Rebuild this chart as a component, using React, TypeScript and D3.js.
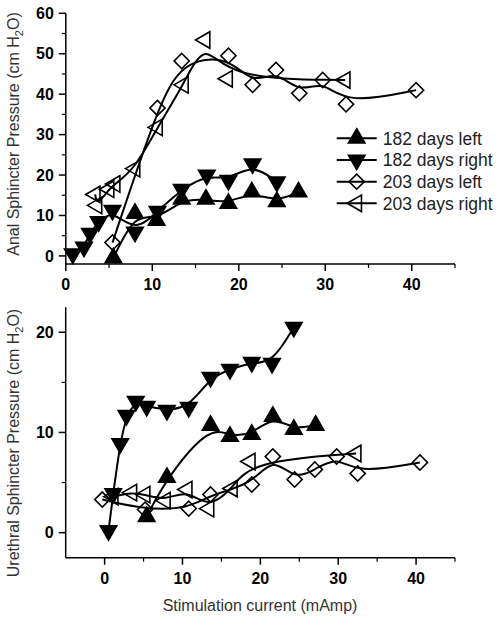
import React from 'react';
import * as d3 from 'd3';

// ---------- Data (x = stimulation current mAmp, y = pressure cm H2O) ----------
const analLeft182: [number, number][] = [
  [5.5, -0.5], [8.0, 10.5], [10.5, 8.8], [13.4, 14.0], [16.2, 14.0],
  [18.8, 13.0], [21.5, 15.8], [24.4, 13.4], [26.9, 15.8],
];
const analRight182: [number, number][] = [
  [0.8, 0.5], [2.1, 2.2], [2.8, 5.6], [3.8, 8.5], [5.4, 11.3], [8.0, 5.9],
  [10.6, 11.0], [13.4, 16.5], [16.3, 20.0], [18.8, 18.7], [21.6, 22.8], [24.4, 18.3],
];
const analLeft203: [number, number][] = [
  [5.4, 3.3], [10.6, 36.6], [13.4, 48.2], [18.8, 49.5], [21.6, 42.3],
  [24.3, 46.0], [27.0, 40.2], [29.7, 43.5], [32.4, 37.5], [40.5, 41.0],
];
const analRight203: [number, number][] = [
  [3.4, 15.2], [3.6, 12.5], [5.0, 16.5], [5.7, 17.8], [8.0, 21.6], [10.6, 31.8],
  [13.6, 42.3], [16.1, 53.4], [18.7, 43.8], [32.3, 43.5],
];

const urethLeft182: [number, number][] = [
  [5.4, 1.6], [8.0, 5.5], [13.6, 10.7], [16.1, 9.6], [18.9, 9.8],
  [21.6, 11.6], [24.3, 10.3], [27.1, 10.7],
];
const urethRight182: [number, number][] = [
  [0.5, 0.2], [1.1, 3.9], [2.0, 8.9], [2.8, 11.7], [4.0, 13.1], [5.4, 12.6],
  [8.0, 12.2], [10.8, 12.5], [13.6, 15.5], [16.1, 16.3], [18.9, 17.0],
  [21.5, 16.9], [24.3, 20.5],
];
const urethLeft203: [number, number][] = [
  [-0.3, 3.3], [5.2, 2.3], [10.8, 2.4], [13.6, 3.8], [18.9, 4.8], [21.6, 7.6],
  [24.4, 5.3], [27.0, 6.3], [29.8, 7.6], [32.5, 5.9], [40.5, 7.0],
];
const urethRight203: [number, number][] = [
  [1.1, 3.6], [3.5, 4.0], [5.2, 3.8], [7.8, 3.2], [10.6, 4.3], [13.4, 2.4],
  [16.4, 4.4], [18.7, 7.1], [32.3, 7.9],
];

const legendLabels = ['182 days left', '182 days right', '203 days left', '203 days right'];
const markerKinds = ['up', 'down', 'diamond', 'left'];

const topXMajor = [0, 10, 20, 30, 40];
const topXMinor = [5, 15, 25, 35, 45];
const topYMajor = [0, 10, 20, 30, 40, 50, 60];
const topYMinor = [5, 15, 25, 35, 45, 55];
const botXMajor = [0, 10, 20, 30, 40];
const botXMinor = [5, 15, 25, 35, 45];
const botYMajor = [0, 10, 20];
const botYMinor = [5, 15];

const FONT = "'Liberation Sans', Arial, Helvetica, sans-serif";

function markerPath(kind: string): { d: string; rot: number; filled: boolean } {
  const tri = d3.symbol().type(d3.symbolTriangle).size(118)() as string;
  const sq = d3.symbol().type(d3.symbolSquare).size(115)() as string;
  if (kind === 'up') return { d: tri, rot: 0, filled: true };
  if (kind === 'down') return { d: tri, rot: 180, filled: true };
  if (kind === 'diamond') return { d: sq, rot: 45, filled: false };
  return { d: tri, rot: -90, filled: false };
}

function Marker({ kind, x, y }: { kind: string; x: number; y: number }) {
  const m = markerPath(kind);
  return (
    <path
      d={m.d}
      transform={`translate(${x},${y}) rotate(${m.rot})`}
      fill={m.filled ? '#000' : 'none'}
      stroke="#000"
      strokeWidth={1.6}
      strokeLinejoin="miter"
    />
  );
}

type Scale = d3.ScaleLinear<number, number>;

function Panel({
  xs, ys, sets, xMajor, xMinor, yMajor, yMinor,
}: {
  xs: Scale; ys: Scale; sets: [number, number][][];
  xMajor: number[]; xMinor: number[]; yMajor: number[]; yMinor: number[];
}) {
  const [x0, x1] = xs.range();
  const [y0, y1] = ys.range();
  const line = d3.line<[number, number]>()
    .x((d) => xs(d[0]))
    .y((d) => ys(d[1]))
    .curve(d3.curveBasis);
  return (
    <g>
      {sets.map((s, i) => (
        <path key={'l' + i} d={line(s) as string} fill="none" stroke="#000" strokeWidth={2} />
      ))}
      {sets.map((s, i) =>
        s.map((d, j) => <Marker key={`m${i}-${j}`} kind={markerKinds[i]} x={xs(d[0])} y={ys(d[1])} />)
      )}
      {/* axes */}
      <line x1={x0} x2={x0} y1={y0} y2={y1} stroke="#000" strokeWidth={1.5} />
      <line x1={x0} x2={x1} y1={y0} y2={y0} stroke="#000" strokeWidth={1.5} />
      {yMajor.map((v) => (
        <g key={'ym' + v}>
          <line x1={x0 - 7} x2={x0} y1={ys(v)} y2={ys(v)} stroke="#000" strokeWidth={1.5} />
          <text x={x0 - 12} y={ys(v)} dy="0.36em" textAnchor="end" fontSize={16} fontWeight="bold" fontFamily={FONT}>
            {v}
          </text>
        </g>
      ))}
      {yMinor.map((v) => (
        <line key={'yn' + v} x1={x0 - 4} x2={x0} y1={ys(v)} y2={ys(v)} stroke="#000" strokeWidth={1.2} />
      ))}
      {xMajor.map((v) => (
        <g key={'xm' + v}>
          <line x1={xs(v)} x2={xs(v)} y1={y0} y2={y0 + 7} stroke="#000" strokeWidth={1.5} />
          <text x={xs(v)} y={y0 + 26} textAnchor="middle" fontSize={16} fontWeight="bold" fontFamily={FONT}>
            {v}
          </text>
        </g>
      ))}
      {xMinor.map((v) => (
        <line key={'xn' + v} x1={xs(v)} x2={xs(v)} y1={y0} y2={y0 + 4} stroke="#000" strokeWidth={1.2} />
      ))}
    </g>
  );
}

export default function App() {
  const xTop = d3.scaleLinear().domain([0, 45]).range([65.8, 455]);
  const yTop = d3.scaleLinear().domain([-2, 60]).range([264, 13.3]);
  const xBot = d3.scaleLinear().domain([-5, 45]).range([65.7, 455]);
  const yBot = d3.scaleLinear().domain([-2.5, 22.5]).range([557.7, 307.2]);

  const legendY = d3.scalePoint<string>().domain(legendLabels).range([138.3, 203.3]);

  return (
    <svg
      width={500}
      height={623}
      style={{ position: 'absolute', left: 0, top: 0, background: '#fff' }}
      fontFamily={FONT}
    >
      <rect x={0} y={0} width={500} height={623} fill="#fff" />
      <Panel
        xs={xTop} ys={yTop}
        sets={[analLeft182, analRight182, analLeft203, analRight203]}
        xMajor={topXMajor} xMinor={topXMinor} yMajor={topYMajor} yMinor={topYMinor}
      />
      <Panel
        xs={xBot} ys={yBot}
        sets={[urethLeft182, urethRight182, urethLeft203, urethRight203]}
        xMajor={botXMajor} xMinor={botXMinor} yMajor={botYMajor} yMinor={botYMinor}
      />
      {/* legend */}
      {legendLabels.map((lab, i) => {
        const y = legendY(lab) as number;
        return (
          <g key={lab}>
            <line x1={336.7} x2={376.7} y1={y} y2={y} stroke="#000" strokeWidth={2} />
            <Marker kind={markerKinds[i]} x={356.7} y={y} />
            <text x={382.7} y={y} dy="0.36em" fontSize={17.5} fill="#222">{lab}</text>
          </g>
        );
      })}
      {/* axis titles */}
      <text transform="translate(19,134) rotate(-90)" textAnchor="middle" fontSize={16} fill="#333">
        Anal Sphincter Pressure (cm H<tspan fontSize={11} dy={4}>2</tspan><tspan dy={-4}>O)</tspan>
      </text>
      <text transform="translate(19,443) rotate(-90)" textAnchor="middle" fontSize={16} fill="#333">
        Urethral Sphincter Pressure (cm H<tspan fontSize={11} dy={4}>2</tspan><tspan dy={-4}>O)</tspan>
      </text>
      <text x={260} y={611} textAnchor="middle" fontSize={16} fill="#333">
        Stimulation current (mAmp)
      </text>
    </svg>
  );
}
